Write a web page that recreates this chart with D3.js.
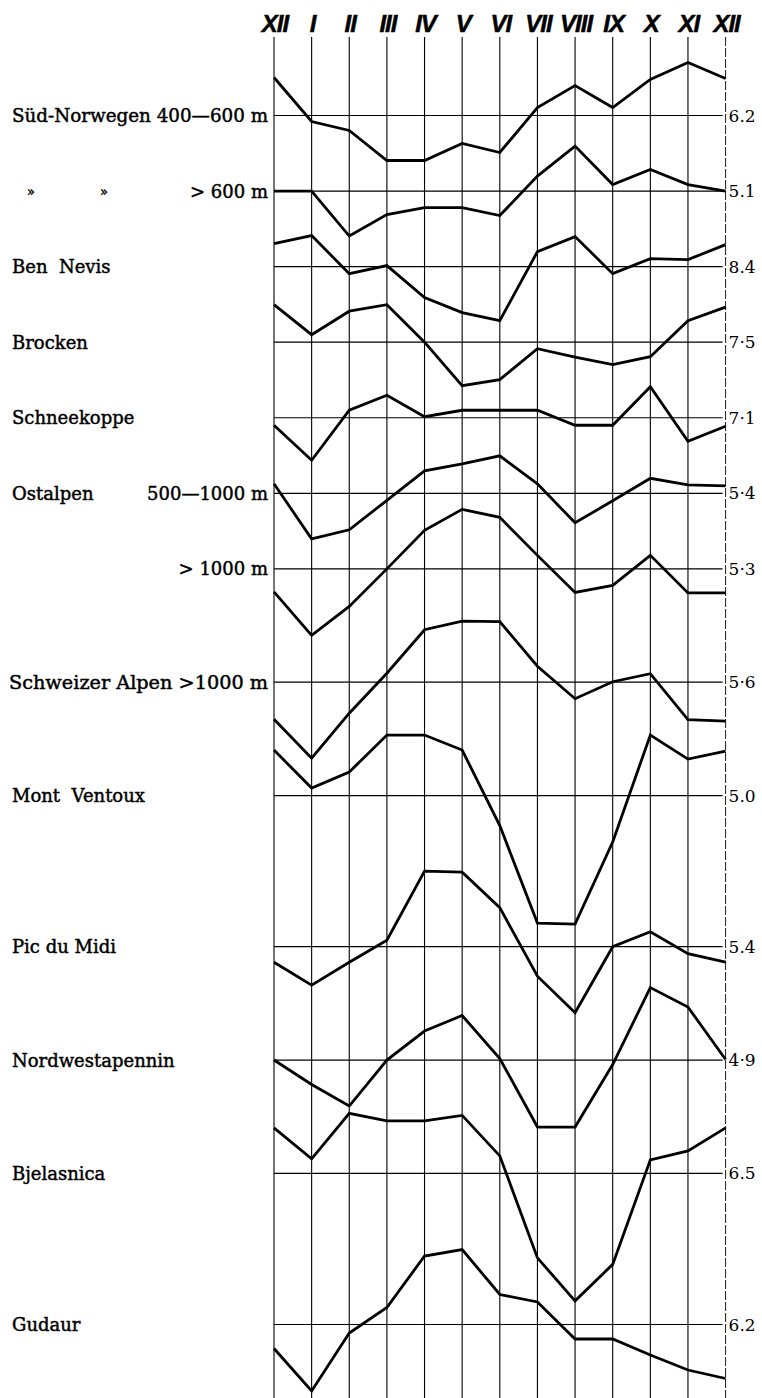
<!DOCTYPE html>
<html>
<head>
<meta charset="utf-8">
<script src="https://cdn.jsdelivr.net/npm/d3@7"></script>
<style>
  html, body { margin: 0; padding: 0; background: #fff; }
  svg { display: block; }
</style>
</head>
<body>
<div id="chart"></div>
<script>
// ---------------- data ----------------
const months = ["XII", "I", "II", "III", "IV", "V", "VI", "VII", "VIII", "IX", "X", "XI", "XII"];

const stationLeft  = ["", "", "Ben  Nevis", "Brocken", "Schneekoppe", "Ostalpen", "", "", "Mont  Ventoux", "Pic du Midi", "Nordwestapennin", "Bjelasnica", "Gudaur"];
const stationRight = ["Süd-Norwegen 400—600 m", "> 600 m", "", "", "", "500—1000 m", "> 1000 m", "Schweizer Alpen >1000 m", "", "", "", "", ""];

const annualMean  = [6.2, 5.1, 8.4, 7.5, 7.1, 5.4, 5.3, 5.6, 5.0, 5.4, 4.9, 6.5, 6.2];
const meanLabels  = ["6.2", "5.1", "8.4", "7·5", "7·1", "5·4", "5·3", "5·6", "5.0", "5.4", "4·9", "6.5", "6.2"];

// monthly mean cloudiness, XII (previous) … XII
const sudNorwegen400 = [6.96, 6.08, 5.90, 5.30, 5.30, 5.64, 5.46, 6.36, 6.80, 6.36, 6.92, 7.26, 6.94];
const sudNorwegen600 = [5.10, 5.10, 4.20, 4.63, 4.77, 4.77, 4.61, 5.40, 6.00, 5.23, 5.53, 5.23, 5.10];
const benNevis       = [8.86, 9.02, 8.26, 8.42, 7.78, 7.48, 7.32, 8.70, 9.00, 8.26, 8.56, 8.54, 8.84];
const brocken        = [8.25, 7.65, 8.12, 8.25, 7.50, 6.63, 6.75, 7.37, 7.20, 7.05, 7.21, 7.93, 8.20];
const schneekoppe    = [6.95, 6.25, 7.25, 7.55, 7.12, 7.25, 7.25, 7.25, 6.95, 6.95, 7.72, 6.63, 6.93];
const ostalpen500    = [5.59, 4.49, 4.67, 5.26, 5.85, 5.99, 6.15, 5.59, 4.81, 5.25, 5.70, 5.57, 5.55];
const ostalpen1000   = [4.84, 3.97, 4.55, 5.30, 6.07, 6.49, 6.33, 5.57, 4.83, 4.97, 5.57, 4.82, 4.82];
const schweizAlpen   = [4.86, 4.08, 4.98, 5.78, 6.65, 6.82, 6.81, 5.92, 5.27, 5.61, 5.77, 4.85, 4.82];
const montVentoux    = [5.91, 5.15, 5.47, 6.21, 6.21, 5.91, 4.40, 2.45, 2.43, 4.07, 6.21, 5.73, 5.89];
const picDuMidi      = [5.09, 4.63, 5.09, 5.53, 6.91, 6.89, 6.18, 4.81, 4.08, 5.40, 5.70, 5.26, 5.09];
const nordwestApenn  = [4.90, 4.41, 3.98, 4.90, 5.48, 5.79, 4.93, 3.56, 3.56, 4.81, 6.35, 5.96, 4.91];
const bjelasnica     = [7.41, 6.79, 7.70, 7.55, 7.55, 7.66, 6.85, 4.81, 3.95, 4.68, 6.77, 6.95, 7.41];
const gudaur         = [5.72, 4.87, 6.03, 6.54, 7.57, 7.70, 6.80, 6.65, 5.91, 5.91, 5.59, 5.29, 5.12];

const seriesValues = [sudNorwegen400, sudNorwegen600, benNevis, brocken, schneekoppe, ostalpen500,
  ostalpen1000, schweizAlpen, montVentoux, picDuMidi, nordwestApenn, bjelasnica, gudaur];

// ---------------- layout ----------------
const W = 762, H = 1398;
const rowUnits = [0, 2, 4, 6, 8, 10, 12, 15, 18, 22, 25, 28, 32];   // vertical slot of each baseline
const dittoX = [27, 100];
const fitWidth = { 0: 256, 7: 259 };   // full-width labels stretched to the left margin

const svg = d3.select("#chart").append("svg")
  .attr("width", W).attr("height", H)
  .attr("viewBox", `0 0 ${W} ${H}`);

const x = d3.scalePoint().domain(d3.range(months.length)).range([274, 725.6]);
const row = d3.scaleLinear().domain([0, 32]).range([115.5, 1324.5]);
const dev = d3.scaleLinear().domain([-1, 1]).range([50, -50]);   // deviation from annual mean

const serif = "'DejaVu Serif', 'Liberation Serif', serif";

// month header
svg.append("g").selectAll("text").data(months).join("text")
  .attr("x", (d, i) => x(i) + 1)
  .attr("y", 32)
  .attr("text-anchor", "middle")
  .attr("font-family", "'Liberation Sans Narrow', 'Liberation Sans', Arial, sans-serif")
  .attr("font-style", "italic")
  .attr("font-weight", "bold")
  .attr("font-size", 24)
  .attr("letter-spacing", -1)
  .attr("fill", "#000")
  .attr("stroke", "#000")
  .attr("stroke-width", 0.5)
  .text(d => d);

// vertical month lines
svg.append("g").selectAll("line").data(months).join("line")
  .attr("x1", (d, i) => x(i)).attr("x2", (d, i) => x(i))
  .attr("y1", 37).attr("y2", H)
  .attr("stroke", "#000")
  .attr("stroke-width", (d, i) => i === months.length - 1 ? 0.9 : 1.1)
  .attr("stroke-dasharray", (d, i) => i === months.length - 1 ? "9,2" : null);

// baselines (annual means)
const rows = d3.range(seriesValues.length);
svg.append("g").selectAll("line").data(rows).join("line")
  .attr("x1", x(0)).attr("x2", x(months.length - 1) - 3)
  .attr("y1", i => row(rowUnits[i])).attr("y2", i => row(rowUnits[i]))
  .attr("stroke", "#000").attr("stroke-width", 1.2);

// right labels
svg.append("g").selectAll("text").data(rows).join("text")
  .attr("x", x(months.length - 1) + 3)
  .attr("y", i => row(rowUnits[i]))
  .attr("dy", "0.36em")
  .attr("font-family", serif)
  .attr("font-size", 17)
  .attr("fill", "#000")
  .text(i => meanLabels[i]);

// left labels
const lbl = svg.append("g")
  .attr("font-family", serif)
  .attr("font-size", 18)
  .attr("fill", "#000")
  .attr("stroke", "#000")
  .attr("stroke-width", 0.45);

lbl.selectAll("text.l").data(rows.filter(i => stationLeft[i])).join("text")
  .attr("class", "l")
  .attr("x", 12)
  .attr("y", i => row(rowUnits[i]))
  .attr("dy", "0.36em")
  .style("white-space", "pre")
  .text(i => stationLeft[i]);

lbl.selectAll("text.r").data(rows.filter(i => stationRight[i])).join("text")
  .attr("class", "r")
  .attr("x", 268)
  .attr("y", i => row(rowUnits[i]))
  .attr("dy", "0.36em")
  .attr("text-anchor", "end")
  .attr("textLength", i => fitWidth[i] || null)
  .attr("lengthAdjust", "spacingAndGlyphs")
  .text(i => stationRight[i]);

// ditto marks for second row
lbl.selectAll("text.ditto").data(dittoX).join("text")
  .attr("class", "ditto")
  .attr("x", d => d)
  .attr("y", row(rowUnits[1]))
  .attr("dy", "0.36em")
  .attr("font-size", 13)
  .text("»");

// series lines
const line = d3.line();
svg.append("g").selectAll("path").data(rows).join("path")
  .attr("d", i => line(seriesValues[i].map((v, j) =>
      [x(j), row(rowUnits[i]) + dev(v - annualMean[i])])))
  .attr("fill", "none")
  .attr("stroke", "#000")
  .attr("stroke-width", 2.8)
  .attr("stroke-linejoin", "miter")
  .attr("stroke-miterlimit", 3);
</script>
</body>
</html>
